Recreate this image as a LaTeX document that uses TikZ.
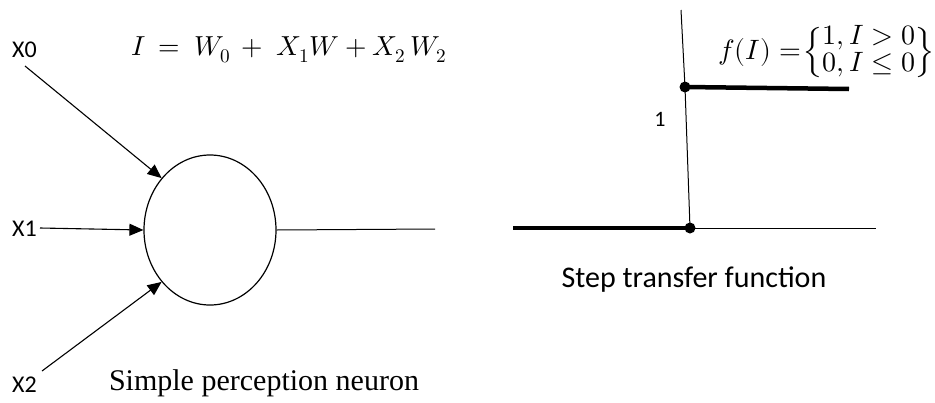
\documentclass[tikz,border=0pt]{standalone}
\usepackage{amsmath}
\usepackage{fontspec}
\usepackage{unicode-math}
\setmainfont{Liberation Serif}
\setmathfont{Latin Modern Math}
\newfontfamily\calib{Carlito}
\usetikzlibrary{arrows.meta,shapes.geometric}
\begin{document}
\begin{tikzpicture}[x=1pt,y=-1pt,
  lbl/.style={font=\calib\fontsize{24}{28}\selectfont, inner sep=0pt},
  inarrow/.style={-{Triangle[length=14pt,width=12pt]}, line width=1.1pt},
  thin/.style={line width=1pt},
  thick/.style={line width=4.5pt},
  dotn/.style={circle, fill=black, inner sep=0pt, minimum size=11pt}]
\useasboundingbox (0,0) rectangle (935,402);
% left: neuron
\node[draw, ellipse, line width=1.2pt, minimum width=132pt, minimum height=150pt, inner sep=0pt] (n) at (210,230) {};
\node[lbl, anchor=west] (x0) at (12,50) {X0};
\node[lbl, anchor=west] (x1) at (12,229) {X1};
\node[lbl, anchor=west] (x2) at (12,385) {X2};
\coordinate (s0) at (25,66);
\coordinate (s1) at (40,228);
\coordinate (s2) at (42,371);
\draw[inarrow] (s0) -- (n.133);
\draw[inarrow] (s1) -- (n.west);
\draw[inarrow] (s2) -- (n.227);
\coordinate (out) at (435,229);
\draw[thin] (n.east) -- (out);
\node[inner sep=0pt, font=\fontsize{27.5}{32}\selectfont] (eq1) at (289,50) {$I\, =\; W_0\, +\; X_1W + X_2\,W_2$};
\node[inner sep=0pt, font=\fontsize{30}{34}\selectfont] (cap1) at (264,383) {Simple perception neuron};
% right: step function
\coordinate (vt) at (681,10);
\node[dotn] (d1) at (685,87) {};
\node[dotn] (d0) at (690,228) {};
\coordinate (ht) at (849,89);
\coordinate (hl) at (513,228);
\coordinate (hr) at (876,228);
\draw[thin] (vt) -- (d1.center) -- (d0.center);
\draw[thick] (d1.center) -- (ht);
\draw[thick] (hl) -- (d0.center);
\draw[thin] (d0.center) -- (hr);
\node[font=\calib\fontsize{22}{26}\selectfont, inner sep=0pt] (one) at (660,119) {1};
\node[inner sep=0pt, font=\fontsize{28}{24}\selectfont, anchor=east] (eq2) at (934,52) {$f(I) = \!\left\{\begin{matrix}1, I > 0\\ 0, I \leq 0\end{matrix}\right\}$};
\node[font=\calib\fontsize{30}{34}\selectfont, inner sep=0pt] (cap2) at (694,280) {Step transfer function};
\end{tikzpicture}
\end{document}
